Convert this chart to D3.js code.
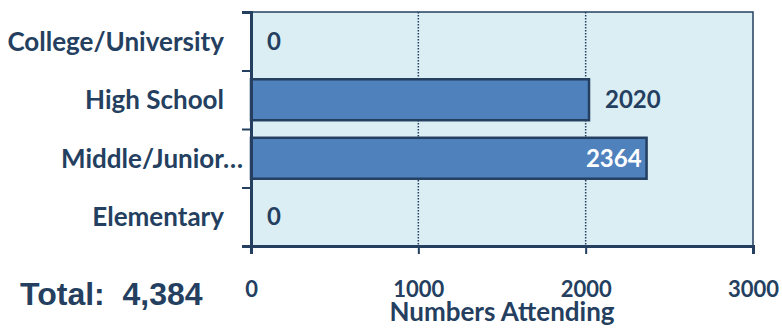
<!DOCTYPE html>
<html>
<head>
<meta charset="utf-8">
<script src="https://cdn.jsdelivr.net/npm/d3@7"></script>
<style>
  body { margin: 0; background: #fff; }
  svg text { font-family: Lato, "Open Sans", sans-serif; font-weight: bold; fill: #243f60; }
</style>
</head>
<body>
<svg width="782" height="334"></svg>
<script>
// data, top to bottom
var categories = ["College/University", "High School", "Middle/Junior\u2026", "Elementary"];
var values = [0, 2020, 2364, 0];
var xTicks = [0, 1000, 2000, 3000];
var xTitle = "Numbers Attending";
var totalLabel = "Total:\u00a0\u00a04,384";

var svg = d3.select("svg"),
    margin = {top: 12, right: 29, bottom: 88, left: 251},
    width = +svg.attr("width") - margin.left - margin.right,
    height = +svg.attr("height") - margin.top - margin.bottom,
    g = svg.append("g").attr("transform", "translate(" + margin.left + "," + margin.top + ")");

var navy = "#243f60";

var x = d3.scaleLinear().domain([0, 3000]).range([0, width]);
var y = d3.scaleBand().domain(categories).range([0, height])
    .paddingInner(0.3).paddingOuter(0.15);

// plot area
g.append("rect")
    .attr("width", width)
    .attr("height", height)
    .attr("fill", "#dbeef4")
    .attr("stroke", navy)
    .attr("stroke-width", 1.5);

// dotted gridlines
g.selectAll(".grid")
    .data(xTicks.slice(1, -1))
    .enter().append("line")
    .attr("class", "grid")
    .attr("x1", x).attr("x2", x)
    .attr("y1", 0).attr("y2", height)
    .attr("stroke", navy)
    .attr("stroke-width", 1.5)
    .attr("stroke-dasharray", "1.5,1.5");

// bars
g.selectAll(".bar")
    .data(values)
    .enter().append("rect")
    .attr("class", "bar")
    .attr("x", x(0))
    .attr("y", function(d, i) { return y(categories[i]); })
    .attr("width", function(d) { return x(d) - x(0); })
    .attr("height", y.bandwidth())
    .attr("fill", function(d) { return d > 0 ? "#4f81bd" : "none"; })
    .attr("stroke", function(d) { return d > 0 ? navy : "none"; })
    .attr("stroke-width", 2.5);

// value labels (the longest bar gets its label inside)
var maxV = d3.max(values);
g.selectAll(".val")
    .data(values)
    .enter().append("text")
    .attr("class", "val")
    .attr("x", function(d) { return d === maxV ? x(d) - 5 : x(d) + 16; })
    .attr("y", function(d, i) { return y(categories[i]) + y.bandwidth() / 2; })
    .attr("dy", "0.36em")
    .attr("text-anchor", function(d) { return d === maxV ? "end" : "start"; })
    .style("font-size", "24px")
    .style("fill", function(d) { return d === maxV ? "#fff" : navy; })
    .text(function(d) { return d; });

// y axis: ticks on band boundaries
var yb = d3.scaleLinear().domain([0, categories.length]).range([0, height]);
var yAxis = g.append("g")
    .call(d3.axisLeft(yb).tickValues(d3.range(categories.length + 1)).tickSize(9).tickFormat(""));
yAxis.selectAll("line").attr("stroke", navy).attr("stroke-width", 2);
yAxis.select(".domain").attr("stroke", navy).attr("stroke-width", 3);

// category labels
g.selectAll(".cat")
    .data(categories)
    .enter().append("text")
    .attr("class", "cat")
    .attr("x", function(d) { return d.slice(-1) === "\u2026" ? -8 : -27; })
    .attr("y", function(d) { return y(d) + y.bandwidth() / 2; })
    .attr("dy", "0.36em")
    .attr("text-anchor", "end")
    .style("font-size", "26px")
    .text(function(d) { return d; });

// x axis
var xAxis = g.append("g")
    .attr("transform", "translate(0," + height + ")")
    .call(d3.axisBottom(x).tickValues(xTicks).tickSize(8).tickPadding(27).tickFormat(d3.format("d")));
xAxis.selectAll("line").attr("stroke", navy).attr("stroke-width", 2);
xAxis.select(".domain").attr("stroke", navy).attr("stroke-width", 3);
xAxis.selectAll("text")
    .style("font-size", "22px")
    .style("font-family", "Lato, sans-serif")
    .style("font-weight", "bold")
    .attr("fill", navy);

// axis title
g.append("text")
    .attr("x", width / 2)
    .attr("y", height + 75)
    .attr("text-anchor", "middle")
    .style("font-size", "26px")
    .text(xTitle);

// total
svg.append("text")
    .attr("x", 20)
    .attr("y", 305)
    .style("font-family", "'Liberation Sans', Arial, sans-serif")
    .style("font-size", "32px")
    .text(totalLabel);
</script>
</body>
</html>
